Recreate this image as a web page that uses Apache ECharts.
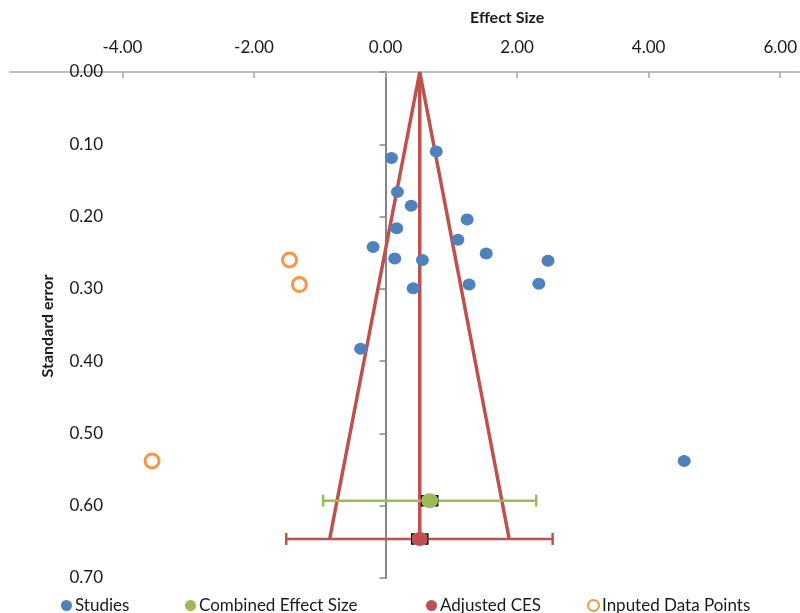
<!DOCTYPE html>
<html>
<head>
<meta charset="utf-8">
<script src="https://cdn.jsdelivr.net/npm/echarts@6/dist/echarts.min.js"></script>
<style>html,body{margin:0;padding:0;background:#fff;}#c{width:800px;height:613px;}</style>
</head>
<body>
<div id="c"></div>
<script>
// ---- data ----
var studiesES = [0.09, 0.77, 0.18, 0.39, 1.24, 0.17, 1.10, -0.19, 1.53, 0.14, 0.56, 2.47, 0.42, 1.27, 2.33, -0.38, 4.54];
var studiesSE = [0.119, 0.110, 0.166, 0.185, 0.204, 0.216, 0.232, 0.242, 0.251, 0.258, 0.260, 0.261, 0.299, 0.294, 0.293, 0.383, 0.538];
var imputedES = [-1.46, -1.31, -3.55];
var imputedSE = [0.260, 0.294, 0.538];
var combinedCES = [0.67, 0.593, -0.95, 2.29];   // es, se, lower, upper
var adjustedCES = [0.52, 0.646, -1.51, 2.54];   // es, se, lower, upper
var funnelLimits = [-0.85, 1.88];               // lower, upper at bottom of funnel
var xTickLabels = [-4, -2, 0, 2, 4, 6];
var yTickLabels = [0, 0.1, 0.2, 0.3, 0.4, 0.5, 0.6, 0.7];

var FONT = 'Lato, "Noto Sans", sans-serif';
var RED = '#C0504D', GREEN = '#9BBB59', BLUE = '#4F81BD', ORANGE = '#F79646';

function zip(a, b) { return a.map(function (v, i) { return [v, b[i]]; }); }

function errBar(color) {
  return function (params, api) {
    var p1 = api.coord([api.value(0), api.value(2)]);
    var p2 = api.coord([api.value(1), api.value(2)]);
    var h = 6;
    var st = { stroke: color, lineWidth: 2.5 };
    return { type: 'group', children: [
      { type: 'line', shape: { x1: p1[0], y1: p1[1], x2: p2[0], y2: p2[1] }, style: st },
      { type: 'line', shape: { x1: p1[0], y1: p1[1] - h, x2: p1[0], y2: p1[1] + h }, style: st },
      { type: 'line', shape: { x1: p2[0], y1: p2[1] - h, x2: p2[0], y2: p2[1] + h }, style: st }
    ]};
  };
}
function bracket(params, api) {
  var c = api.coord([api.value(0), api.value(1)]);
  var w = 8, h = 5;
  var st = { stroke: '#000', lineWidth: 1.5, fill: null };
  return { type: 'group', children: [
    { type: 'polyline', shape: { points: [[c[0] - w + 3, c[1] - h], [c[0] - w, c[1] - h], [c[0] - w, c[1] + h], [c[0] - w + 3, c[1] + h]] }, style: st },
    { type: 'polyline', shape: { points: [[c[0] + w - 3, c[1] - h], [c[0] + w, c[1] - h], [c[0] + w, c[1] + h], [c[0] + w - 3, c[1] + h]] }, style: st }
  ]};
}

var chart = echarts.init(document.getElementById('c'), null, { renderer: 'canvas' });
var legendBase = { top: 592, itemWidth: 11, itemHeight: 11, itemGap: 0,
  textStyle: { fontFamily: FONT, fontSize: 17, color: '#1a1a1a', padding: [0, 0, 0, -2] } };
function legendAt(left, name) { return Object.assign({}, legendBase, { left: left, data: [name] }); }

chart.setOption({
  animation: false,
  backgroundColor: '#fff',
  grid: { left: 10, right: 0, top: 72, bottom: 35, containLabel: false },
  graphic: [
    { type: 'text', left: 470, top: 10, style: { text: 'Effect Size', font: 'bold 16px ' + FONT, fill: '#1a1a1a', textAlign: 'center' } },
    { type: 'text', x: 48, y: 326, rotation: Math.PI / 2, style: { text: 'Standard error', font: 'bold 16px ' + FONT, fill: '#1a1a1a', textAlign: 'center', textVerticalAlign: 'middle' } }
  ],
  legend: [
    legendAt(56, 'Studies'),
    legendAt(180, 'Combined Effect Size'),
    legendAt(421, 'Adjusted CES'),
    legendAt(582, 'Inputed Data Points')
  ],
  xAxis: {
    type: 'value', position: 'top', min: -5.71, max: 6.29,
    splitLine: { show: false },
    axisLine: { onZero: false, lineStyle: { color: '#BFBFBF', width: 2 } },
    axisTick: { inside: true, length: 6, customValues: xTickLabels, lineStyle: { color: '#A6A6A6', width: 1.5 } },
    axisLabel: { customValues: xTickLabels, margin: 16, fontFamily: FONT, fontSize: 17, color: '#1a1a1a',
      formatter: function (v) { return v.toFixed(2); } }
  },
  yAxis: [
    {
      type: 'value', inverse: true, min: 0, max: 0.7, interval: 0.1,
      splitLine: { show: false },
      axisLine: { show: false, onZero: false }, axisTick: { show: false },
      axisLabel: { inside: true, margin: 93, align: 'right', fontFamily: FONT, fontSize: 17, color: '#1a1a1a',
        formatter: function (v) { return v.toFixed(2); } }
    },
    {
      type: 'value', inverse: true, min: 0, max: 0.7, interval: 0.1,
      splitLine: { show: false },
      axisLine: { show: true, onZero: true, lineStyle: { color: '#868686', width: 2 } },
      axisTick: { show: true, inside: true, length: 6, lineStyle: { color: '#868686', width: 1.5 } },
      axisLabel: { show: false }
    }
  ],
  series: [
    { name: 'funnel', type: 'line', silent: true, symbol: 'none', z: 3,
      lineStyle: { color: RED, width: 3.5 },
      data: [[funnelLimits[0], adjustedCES[1]], [adjustedCES[0], 0], [funnelLimits[1], adjustedCES[1]]] },
    { name: 'center', type: 'line', silent: true, symbol: 'none', z: 3,
      lineStyle: { color: RED, width: 3.5 },
      data: [[adjustedCES[0], 0], [adjustedCES[0], adjustedCES[1]]] },
    { name: 'cesErr', type: 'custom', silent: true, z: 4, renderItem: errBar(GREEN),
      data: [[combinedCES[2], combinedCES[3], combinedCES[1]]] },
    { name: 'adjErr', type: 'custom', silent: true, z: 4, renderItem: errBar(RED),
      data: [[adjustedCES[2], adjustedCES[3], adjustedCES[1]]] },
    { name: 'brackets', type: 'custom', silent: true, z: 5, renderItem: bracket,
      data: [[combinedCES[0], combinedCES[1]], [adjustedCES[0], adjustedCES[1]]] },
    { name: 'Studies', type: 'scatter', symbol: 'circle', symbolSize: [13, 12], z: 6,
      itemStyle: { color: BLUE, opacity: 1 }, data: zip(studiesES, studiesSE) },
    { name: 'Combined Effect Size', type: 'scatter', symbol: 'circle', symbolSize: [17, 15], z: 6,
      itemStyle: { color: GREEN, opacity: 1 }, data: [[combinedCES[0], combinedCES[1]]] },
    { name: 'Adjusted CES', type: 'scatter', symbol: 'circle', symbolSize: [16, 14], z: 6,
      itemStyle: { color: RED, opacity: 1 }, data: [[adjustedCES[0], adjustedCES[1]]] },
    { name: 'Inputed Data Points', type: 'scatter', symbol: 'circle', symbolSize: 14, z: 6,
      itemStyle: { color: '#fff', borderColor: ORANGE, borderWidth: 3, opacity: 1 }, data: zip(imputedES, imputedSE) }
  ]
});
</script>
</body>
</html>
